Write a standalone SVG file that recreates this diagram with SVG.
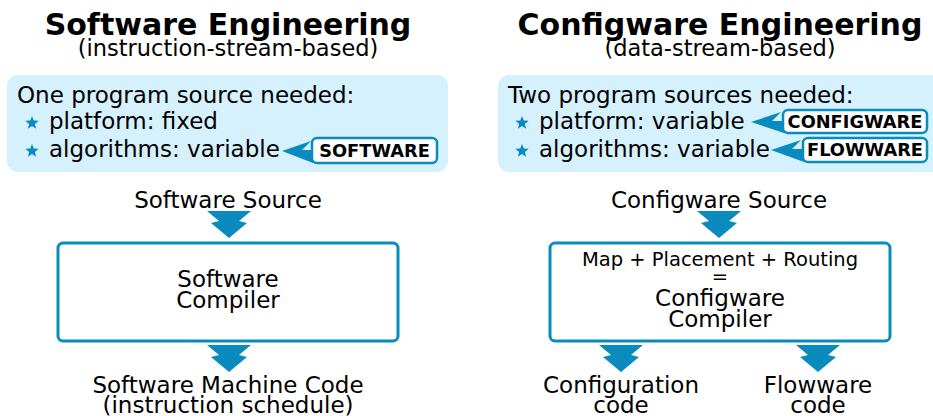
<svg xmlns="http://www.w3.org/2000/svg" width="933" height="416" viewBox="0 0 933 416">
  <style>
    text { font-family: "DejaVu Sans", "Liberation Sans", sans-serif; fill: #000; }
    .title { font-size: 30px; font-weight: bold; text-anchor: middle; }
    .sub { font-size: 22.5px; text-anchor: middle; }
    .body { font-size: 23px; }
    .mid { font-size: 23px; text-anchor: middle; }
    .small { font-size: 19.5px; text-anchor: middle; }
    .tag { font-size: 17.8px; font-weight: bold; text-anchor: middle; }
    .panel { fill: #d5f1fd; }
    .box { fill: #fff; stroke: #0a8bbd; stroke-width: 3; }
    .tagbox { fill: #fff; stroke: #0a8bbd; stroke-width: 2.5; }
    .blue { fill: #0a8bbd; }
  </style>
  <defs>
    <polygon id="star" points="0,-7 1.8,-2.45 6.66,-2.16 2.88,0.93 4.11,5.66 0,3.03 -4.11,5.66 -2.88,0.93 -6.66,-2.16 -1.8,-2.45"/>
    <!-- double-chevron down arrow, tip at origin -->
    <polygon id="down" points="-22,-27 22,-27 10,-17 18,-15 0,0 -18,-15 -10,-17"/>
  </defs>

  <!-- titles -->
  <g id="title-left">
    <text class="title" x="228" y="35">Software Engineering</text>
    <text class="sub" x="228" y="56">(instruction-stream-based)</text>
  </g>
  <g id="title-right">
    <text class="title" x="720" y="35">Configware Engineering</text>
    <text class="sub" x="720" y="56">(data-stream-based)</text>
  </g>

  <!-- requirement panels -->
  <g id="panel-left">
    <rect class="panel" x="7" y="75" width="441" height="97" rx="11"/>
    <text class="body" x="17" y="103">One program source needed:</text>
    <use href="#star" class="blue" x="32" y="123"/>
    <text class="body" x="49" y="129">platform: fixed</text>
    <use href="#star" class="blue" x="32" y="151"/>
    <text class="body" x="49" y="157">algorithms: variable</text>
  </g>
  <g id="panel-right">
    <rect class="panel" x="498" y="75" width="450" height="97" rx="11"/>
    <text class="body" x="508" y="103">Two program sources needed:</text>
    <use href="#star" class="blue" x="522" y="123"/>
    <text class="body" x="539" y="129">platform: variable</text>
    <use href="#star" class="blue" x="522" y="151"/>
    <text class="body" x="539" y="157">algorithms: variable</text>
  </g>

  <!-- source tags -->
  <g id="tag-software">
    <path class="blue" d="M282,151 L311,141 L302,150 L313,150 L313,163 Z"/>
    <rect class="tagbox" x="312" y="138" width="125" height="25" rx="5"/>
    <text class="tag" x="374.5" y="157">SOFTWARE</text>
  </g>
  <g id="tag-configware">
    <path class="blue" d="M751,122 L781,112 L772,121 L784,121 L784,133 Z"/>
    <rect class="tagbox" x="783" y="110" width="144" height="23" rx="5"/>
    <text class="tag" x="855" y="128">CONFIGWARE</text>
  </g>
  <g id="tag-flowware">
    <path class="blue" d="M771,150 L801,140 L792,149 L804,149 L804,162 Z"/>
    <rect class="tagbox" x="803" y="138" width="124" height="24" rx="5"/>
    <text class="tag" x="865" y="156">FLOWWARE</text>
  </g>

  <!-- flow nodes -->
  <g id="sw-source">
    <text class="mid" x="228" y="208">Software Source</text>
  </g>
  <g id="sw-compiler">
    <rect class="box" x="58" y="243" width="340" height="98" rx="5"/>
    <text class="mid" x="228" y="287">Software</text>
    <text class="mid" x="228" y="308">Compiler</text>
  </g>
  <g id="sw-output">
    <text class="mid" x="228" y="393">Software Machine Code</text>
    <text class="mid" x="228" y="413">(instruction schedule)</text>
  </g>

  <g id="cw-source">
    <text class="mid" x="719" y="208">Configware Source</text>
  </g>
  <g id="cw-compiler">
    <rect class="box" x="550" y="243" width="340" height="98" rx="5"/>
    <text class="small" x="720" y="266">Map + Placement + Routing</text>
    <text class="small" x="720" y="283">=</text>
    <text class="mid" x="720" y="306">Configware</text>
    <text class="mid" x="720" y="327">Compiler</text>
  </g>
  <g id="cw-config">
    <text class="mid" x="621" y="393">Configuration</text>
    <text class="mid" x="621" y="413">code</text>
  </g>
  <g id="cw-flow">
    <text class="mid" x="818" y="393">Flowware</text>
    <text class="mid" x="818" y="413">code</text>
  </g>

  <!-- connectors -->
  <g id="connectors" class="blue">
    <use href="#down" x="229" y="238"/>
    <use href="#down" x="229" y="372"/>
    <use href="#down" x="719" y="238"/>
    <use href="#down" x="621" y="372"/>
    <use href="#down" x="818" y="372"/>
  </g>
</svg>
